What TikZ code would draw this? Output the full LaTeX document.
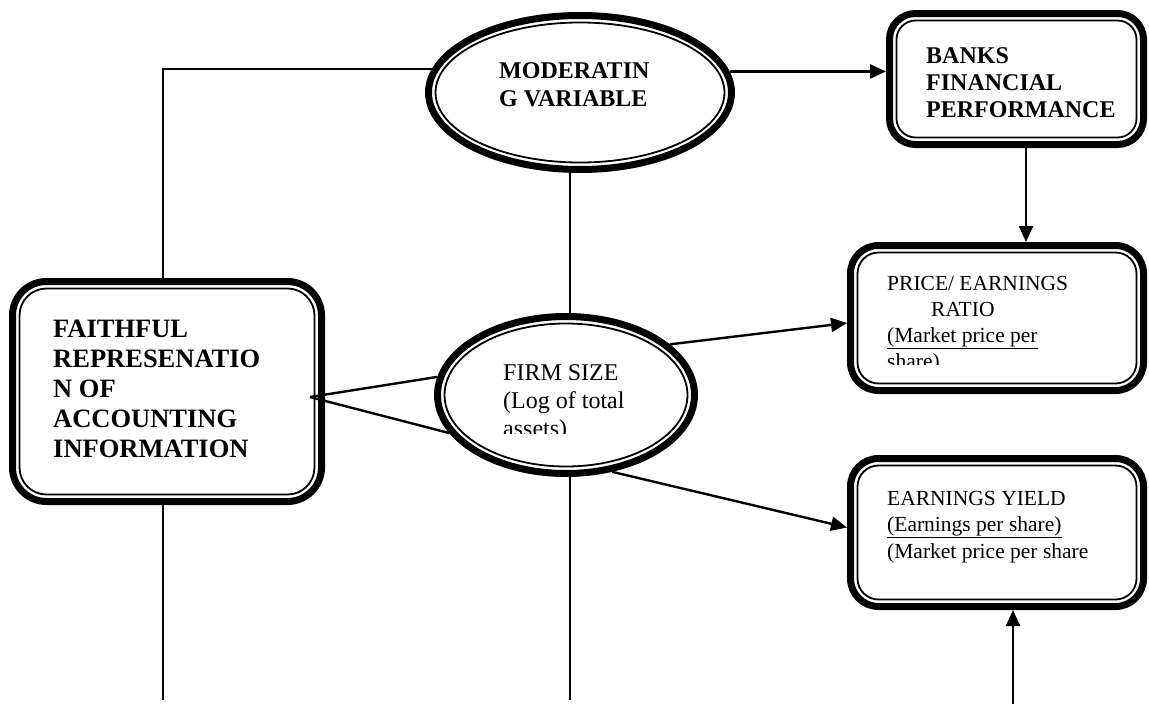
\documentclass[tikz,border=0pt]{standalone}
\usepackage{fontspec}
\setmainfont{Liberation Serif}
\usetikzlibrary{shapes.geometric,arrows.meta,calc}
\tikzset{
  outerbox/.style={draw, line width=7pt, rounded corners=#1, inner sep=0pt},
  innerbox/.style={draw, line width=1.8pt, rounded corners=#1, inner sep=0pt},
  outerell/.style={draw, ellipse, line width=7pt, inner sep=0pt},
  innerell/.style={draw, ellipse, line width=1.8pt, inner sep=0pt},
  thinline/.style={line width=1.3pt},
  thickline/.style={line width=2.4pt},
  arr/.style={line width=2.4pt, -{Triangle[length=16pt,width=14pt]}},
  txt/.style={anchor=base west, align=left, inner sep=0pt},
}
\begin{document}
\begin{tikzpicture}[x=1pt,y=-1pt]
\useasboundingbox (0,0) rectangle (1149,704);
% shapes
\node[outerell, minimum width=303pt, minimum height=154pt] (mod) at (580,92.5) {};
\node[innerell, minimum width=289pt, minimum height=140pt] (modi) at (mod.center) {};
\node[outerell, minimum width=257pt, minimum height=157pt] (firm) at (566,395) {};
\node[innerell, minimum width=243pt, minimum height=143pt] (firmi) at (firm.center) {};
\node[outerbox=26pt, minimum width=254pt, minimum height=131pt] (bank) at (1016.5,79) {};
\node[innerbox=19pt, minimum width=240pt, minimum height=117pt] (banki) at (bank.center) {};
\node[outerbox=28pt, minimum width=293pt, minimum height=145pt] (price) at (997,318) {};
\node[innerbox=21pt, minimum width=279pt, minimum height=131pt] (pricei) at (price.center) {};
\node[outerbox=28pt, minimum width=293pt, minimum height=148pt] (earn) at (997,532.5) {};
\node[innerbox=21pt, minimum width=279pt, minimum height=134pt] (earni) at (earn.center) {};
\node[outerbox=34pt, minimum width=309pt, minimum height=220pt] (faith) at (167,391.5) {};
\node[innerbox=27pt, minimum width=295pt, minimum height=206pt] (faithi) at (faith.center) {};
% texts (anchor: baseline of the last line)
\node[txt, font=\bfseries\fontsize{26.5}{30}\selectfont] (tfaith) at (53,457) {FAITHFUL\\REPRESENATIO\\N OF\\ACCOUNTING\\INFORMATION};
\node[txt, font=\bfseries\fontsize{24}{28}\selectfont] (tmod) at (499,106) {MODERATIN\\G VARIABLE};
\node[txt, font=\bfseries\fontsize{24}{27}\selectfont] (tbank) at (926,117) {BANKS\\FINANCIAL\\PERFORMANCE};
\begin{scope}
\clip (880,260) rectangle (1100,364);
\node[txt, font=\fontsize{21.5}{26}\selectfont] (tprice) at (887,368) {PRICE/ EARNINGS\\\hspace*{44pt}RATIO\\\underline{(Market price per}\\share)};
\end{scope}
\node[txt, font=\fontsize{21.5}{26.5}\selectfont] (tearn) at (887,558) {EARNINGS YIELD\\\underline{(Earnings per share)}\\(Market price per share};
\begin{scope}
\clip (495,340) rectangle (640,433);
\node[txt, font=\fontsize{24}{28}\selectfont] (tfirm) at (503,436) {FIRM SIZE\\(Log of total\\assets)};
\end{scope}
% connectors
\coordinate (fj) at (310,397);
\coordinate (b1) at (163,700);
\coordinate (b2) at (570,700);
\coordinate (b3) at (1013,704);
\draw[thinline] (163,0 |- faith.north) |- (mod.171);
\draw[arr] (mod.8) -- (mod.8 -| bank.west);
\draw[arr] (1026,0 |- bank.south) -- (1026,0 |- price.north);
\draw[arr] (firm.26) -- ($(price.west)+(0,5)$);
\draw[arr] (firm.-59) -- ($(earn.west)+(0,-5)$);
\draw[thickline] (fj) -- (firm.172);
\draw[thickline] (fj) -- (firm.198);
\draw[thinline] (570,0 |- mod.south) -- (570,0 |- firm.north);
\draw[thinline] (570,0 |- firm.south) -- (b2);
\draw[thinline] (163,0 |- faith.south) -- (b1);
\draw[arr] (b3) -- (b3 |- earn.south);
\end{tikzpicture}
\end{document}
